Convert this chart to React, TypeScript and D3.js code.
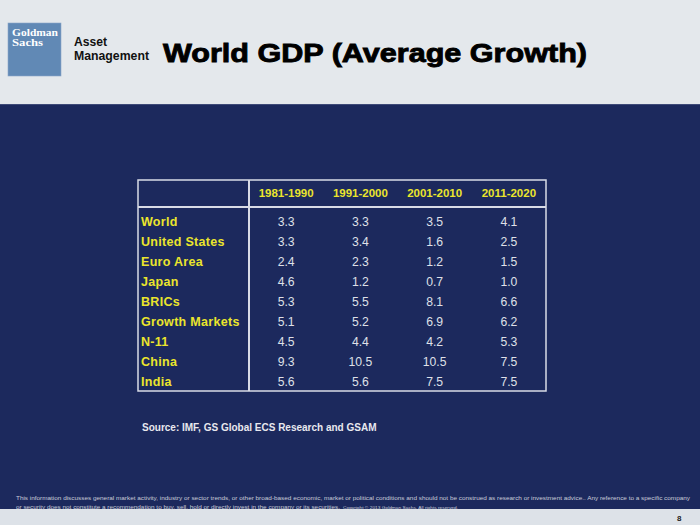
import React from "react";
import * as d3 from "d3";

const periods = ["1981-1990", "1991-2000", "2001-2010", "2011-2020"];
const regions = ["World", "United States", "Euro Area", "Japan", "BRICs", "Growth Markets", "N-11", "China", "India"];
const growth1981 = [3.3, 3.3, 2.4, 4.6, 5.3, 5.1, 4.5, 9.3, 5.6];
const growth1991 = [3.3, 3.4, 2.3, 1.2, 5.5, 5.2, 4.4, 10.5, 5.6];
const growth2001 = [3.5, 1.6, 1.2, 0.7, 8.1, 6.9, 4.2, 10.5, 7.5];
const growth2011 = [4.1, 2.5, 1.5, 1.0, 6.6, 6.2, 5.3, 7.5, 7.5];
const seriesValues = [growth1981, growth1991, growth2001, growth2011];

const title = "World GDP (Average Growth)";
const sourceText = "Source: IMF, GS Global ECS Research and GSAM";
const footer1 = "This information discusses general market activity, industry or sector trends, or other broad-based economic, market or political conditions and should not be construed as research or investment advice.. Any reference to a specific company";
const footer2 = "or security does not constitute a recommendation to buy, sell, hold or directly invest in the company or its securities.";
const copyright = "Copyright \u00A9 2013 Goldman Sachs. All rights reserved.";

const W = 700;
const H = 525;
const NAVY = "#1c295d";
const YELLOW = "#ebe52c";
const BORDER = "#d8dbe6";
const SANS = "'Liberation Sans', Arial, sans-serif";
const NARROW = "'Liberation Sans Narrow', 'Arial Narrow', 'Liberation Sans', sans-serif";
const SERIF = "'Liberation Serif', 'Times New Roman', serif";

export default function App() {
  const tableLeft = 138;
  const divider = 249;
  const tableRight = 546;
  const tableTop = 180;
  const headerBottom = 207;
  const tableBottom = 391;

  const x = d3.scaleBand<string>().domain(periods).range([divider, tableRight]);
  const y = d3.scaleBand<string>().domain(regions).range([211, 392]);
  const fmt = d3.format(".1f");

  return (
    <svg
      width={W}
      height={H}
      style={{ position: "absolute", left: 0, top: 0, display: "block" }}
      fontFamily={SANS}
    >
      {/* header area */}
      <rect x={0} y={0} width={W} height={105} fill="#e4e8ec" />
      <rect x={0} y={509} width={W} height={16} fill="#dde2e8" />
      <rect x={0} y={104.5} width={W} height={404.5} fill={NAVY} />
      <line x1={0} x2={W} y1={104.5} y2={104.5} stroke="#3e4a78" strokeWidth={1} />

      {/* logo */}
      <rect x={8} y={23} width={53} height={53} fill="#6189b5" stroke="#8aa6c8" strokeWidth={0.6} />
      <text x={12} y={35.5} fill="#ffffff" fontFamily={SERIF} fontWeight="bold" fontSize={10.5} textLength={46} lengthAdjust="spacingAndGlyphs">Goldman</text>
      <text x={12} y={45.5} fill="#ffffff" fontFamily={SERIF} fontWeight="bold" fontSize={10.5} textLength={31} lengthAdjust="spacingAndGlyphs">Sachs</text>
      <text x={74} y={46} fill="#111" fontWeight="bold" fontSize={12.5} textLength={33} lengthAdjust="spacingAndGlyphs">Asset</text>
      <text x={74} y={60} fill="#111" fontWeight="bold" fontSize={12.5} textLength={75} lengthAdjust="spacingAndGlyphs">Management</text>

      {/* title */}
      <text x={163} y={62} fill="#000" stroke="#000" strokeWidth={0.9} fontWeight="bold" fontSize={26.5} textLength={424} lengthAdjust="spacingAndGlyphs">{title}</text>

      {/* table borders */}
      <rect x={tableLeft} y={tableTop} width={tableRight - tableLeft} height={tableBottom - tableTop} fill="none" stroke={BORDER} strokeWidth={1.5} />
      <line x1={tableLeft} x2={tableRight} y1={headerBottom} y2={headerBottom} stroke={BORDER} strokeWidth={2} />
      <line x1={divider} x2={divider} y1={tableTop} y2={tableBottom} stroke={BORDER} strokeWidth={2} />

      {/* column headers */}
      {periods.map((p) => (
        <text key={p} x={(x(p) ?? 0) + x.bandwidth() / 2} y={197} textAnchor="middle" fill={YELLOW} fontWeight="bold" fontSize={11.5}>{p}</text>
      ))}

      {/* row labels */}
      {regions.map((r) => (
        <text key={r} x={141} y={(y(r) ?? 0) + y.bandwidth() / 2 + 4.5} fill={YELLOW} fontWeight="bold" fontSize={12.5} letterSpacing={0.3}>{r}</text>
      ))}

      {/* values */}
      {periods.map((p, ci) =>
        regions.map((r, ri) => (
          <text key={p + r} x={(x(p) ?? 0) + x.bandwidth() / 2} y={(y(r) ?? 0) + y.bandwidth() / 2 + 4.5} textAnchor="middle" fill="#dfe0e8" fontSize={12.2}>{fmt(seriesValues[ci][ri])}</text>
        ))
      )}

      {/* source */}
      <text x={142} y={431} fill="#e8e8ee" fontWeight="bold" fontSize={10}>{sourceText}</text>

      {/* footer */}
      <text x={16} y={499.5} fill="#c9ccd8" fontFamily={NARROW} fontSize={6.1} textLength={674} lengthAdjust="spacingAndGlyphs">{footer1}</text>
      <text x={16} y={508.5} fill="#c9ccd8" fontFamily={NARROW} fontSize={6.1} textLength={324} lengthAdjust="spacingAndGlyphs">{footer2}</text>
      <text x={343} y={508.5} fill="#c9ccd8" fontFamily={NARROW} fontSize={4.3} textLength={115} lengthAdjust="spacingAndGlyphs">{copyright}</text>
      <text x={677} y={521} fill="#222" fontWeight="bold" fontSize={8}>8</text>
    </svg>
  );
}
